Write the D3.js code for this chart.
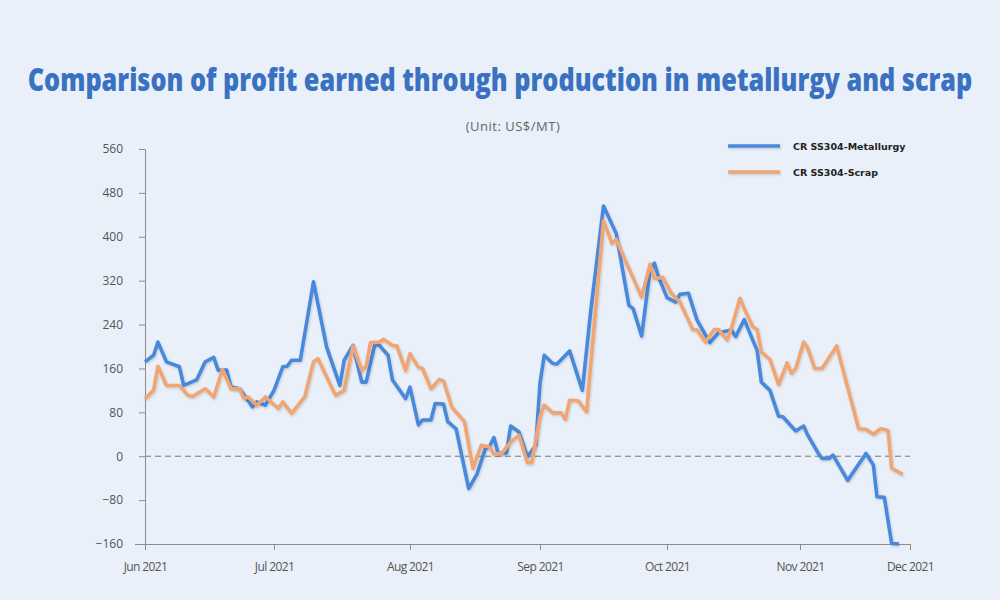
<!DOCTYPE html>
<html>
<head>
<meta charset="utf-8">
<script src="https://cdn.jsdelivr.net/npm/d3@7"></script>
<style>
  html, body { margin: 0; padding: 0; background: #e9f0f9; }
  svg { display: block; }
</style>
</head>
<body>
<svg id="chart" width="1000" height="600"></svg>
<script>
// ---------- data ----------
const titleText = "Comparison of profit earned through production in metallurgy and scrap";
const unitText = "(Unit: US$/MT)";
const seriesNames = ["CR SS304-Metallurgy", "CR SS304-Scrap"];
const yTicks = [-160, -80, 0, 80, 160, 240, 320, 400, 480, 560];
const monthTicks = ["2021-06-01", "2021-07-01", "2021-08-01", "2021-09-01", "2021-10-01", "2021-11-01", "2021-12-01"];

const metallurgyDates = [
  "2021-06-01","2021-06-03","2021-06-04","2021-06-06","2021-06-09","2021-06-10","2021-06-13","2021-06-15","2021-06-17","2021-06-18",
  "2021-06-20","2021-06-21","2021-06-23","2021-06-26","2021-06-27","2021-06-29","2021-07-01","2021-07-03","2021-07-04","2021-07-05",
  "2021-07-07","2021-07-10","2021-07-13","2021-07-16","2021-07-17","2021-07-19","2021-07-21","2021-07-22","2021-07-24","2021-07-25",
  "2021-07-27","2021-07-28","2021-07-31","2021-08-01","2021-08-03","2021-08-04","2021-08-06","2021-08-07","2021-08-09","2021-08-10",
  "2021-08-12","2021-08-15","2021-08-17","2021-08-19","2021-08-20","2021-08-21","2021-08-22","2021-08-24","2021-08-25","2021-08-27",
  "2021-08-29","2021-08-31","2021-09-01","2021-09-02","2021-09-04","2021-09-05","2021-09-08","2021-09-11","2021-09-13","2021-09-16",
  "2021-09-19","2021-09-22","2021-09-23","2021-09-25","2021-09-27","2021-09-28","2021-09-29","2021-10-01","2021-10-03","2021-10-04",
  "2021-10-06","2021-10-08","2021-10-11","2021-10-13","2021-10-16","2021-10-17","2021-10-19","2021-10-22","2021-10-23","2021-10-25",
  "2021-10-27","2021-10-28","2021-10-31","2021-11-02","2021-11-03","2021-11-06","2021-11-07","2021-11-09","2021-11-10","2021-11-14",
  "2021-11-19","2021-11-21","2021-11-22","2021-11-24","2021-11-26","2021-11-28"
];
const metallurgyValues = [
  172, 184, 208, 172, 163, 129, 139, 172, 180, 157,
  157, 126, 123, 90, 99, 93, 120, 163, 164, 175,
  175, 318, 199, 129, 175, 202, 135, 135, 204, 202,
  184, 139, 105, 126, 57, 66, 66, 96, 95, 63,
  50, -59, -32, 14, 18, 34, 6, 6, 55, 44,
  -1, 20, 133, 184, 169, 168, 192, 120, 266, 456,
  406, 275, 269, 219, 339, 352, 327, 289, 281, 295,
  297, 248, 207, 225, 230, 218, 249, 193, 135, 120,
  73, 72, 46, 55, 40, 5, -4, -4, 2, -44,
  5, -16, -74, -75, -159, -160
];

const scrapDates = [
  "2021-06-01","2021-06-03","2021-06-04","2021-06-06","2021-06-09","2021-06-11","2021-06-12","2021-06-15","2021-06-17","2021-06-19",
  "2021-06-21","2021-06-23","2021-06-24","2021-06-25","2021-06-27","2021-06-29","2021-07-02","2021-07-03","2021-07-05","2021-07-08",
  "2021-07-10","2021-07-11","2021-07-15","2021-07-17","2021-07-19","2021-07-21","2021-07-22","2021-07-23","2021-07-25","2021-07-26",
  "2021-07-28","2021-07-29","2021-07-31","2021-08-01","2021-08-03","2021-08-04","2021-08-06","2021-08-08","2021-08-09","2021-08-11",
  "2021-08-14","2021-08-16","2021-08-18","2021-08-20","2021-08-21","2021-08-23","2021-08-25","2021-08-27","2021-08-29","2021-08-30",
  "2021-09-01","2021-09-02","2021-09-04","2021-09-06","2021-09-07","2021-09-08","2021-09-10","2021-09-12","2021-09-16","2021-09-18",
  "2021-09-19","2021-09-22","2021-09-25","2021-09-27","2021-09-28","2021-09-30","2021-10-02","2021-10-04","2021-10-07","2021-10-08",
  "2021-10-10","2021-10-12","2021-10-13","2021-10-15","2021-10-16","2021-10-18","2021-10-19","2021-10-21","2021-10-22","2021-10-23",
  "2021-10-25","2021-10-27","2021-10-29","2021-10-30","2021-10-31","2021-11-02","2021-11-03","2021-11-05","2021-11-07","2021-11-11",
  "2021-11-17","2021-11-19","2021-11-21","2021-11-23","2021-11-25","2021-11-26","2021-11-29"
];
const scrapValues = [
  105, 120, 164, 129, 129, 111, 109, 123, 108, 158,
  123, 123, 105, 108, 93, 108, 87, 99, 78, 108,
  172, 178, 111, 120, 201, 157, 163, 207, 208, 213,
  202, 201, 156, 187, 162, 160, 123, 140, 137, 89,
  63, -22, 20, 17, 4, 6, 26, 38, -12, -12,
  72, 93, 79, 79, 67, 102, 101, 81, 429, 388,
  395, 342, 290, 350, 324, 326, 297, 281, 231, 230,
  208, 231, 231, 212, 233, 288, 269, 236, 231, 190,
  176, 131, 170, 151, 160, 208, 199, 160, 160, 201,
  50, 49, 40, 50, 47, -22, -33
];

// ---------- layout ----------
const colors = ["#4a89dc", "#f0a574"];
const parse = d3.timeParse("%Y-%m-%d");
const svg = d3.select("#chart");

const tickDates = monthTicks.map(parse);
const x = d3.scaleTime()
  .domain(tickDates)
  .range([145, 274, 410, 540, 667, 800, 910]);
const y = d3.scaleLinear().domain([-160, 560]).range([544, 149]);

// title (condensed by horizontal scaling)
const title = svg.append("text")
  .attr("x", 0).attr("y", 0)
  .attr("text-anchor", "middle")
  .attr("font-family", "'Open Sans', sans-serif")
  .attr("font-weight", 800)
  .attr("font-size", 31)
  .attr("fill", "#3a71c1")
  .text(titleText);
const natural = title.node().getComputedTextLength();
title.attr("transform", `translate(500,91) scale(${945 / natural},1)`);

svg.append("text")
  .attr("x", 513).attr("y", 131)
  .attr("text-anchor", "middle")
  .attr("font-family", "'Open Sans', sans-serif")
  .attr("font-size", 13)
  .attr("letter-spacing", "0.5px")
  .attr("fill", "#666")
  .text(unitText);

// zero line
svg.append("line")
  .attr("x1", 145).attr("x2", 910)
  .attr("y1", y(0)).attr("y2", y(0))
  .attr("stroke", "#777").attr("stroke-width", 1)
  .attr("stroke-dasharray", "6,4");

// y axis
const yAxis = svg.append("g")
  .attr("transform", "translate(145,0)")
  .call(d3.axisLeft(y).tickValues(yTicks).tickSize(6).tickPadding(16).tickFormat(d3.format("d")));
yAxis.select(".domain").attr("stroke", "#8c8c8c");
yAxis.selectAll(".tick line").attr("stroke", "#8c8c8c");
yAxis.selectAll(".tick text")
  .attr("font-family", "'Open Sans', sans-serif")
  .attr("font-size", 12).attr("fill", "#555");

// x axis
const xAxis = svg.append("g")
  .attr("transform", "translate(0,544)")
  .call(d3.axisBottom(x).tickValues(tickDates).tickSize(6).tickSizeOuter(0).tickPadding(12)
    .tickFormat(d3.timeFormat("%b %Y")));
xAxis.select(".domain").attr("stroke", "#8c8c8c").attr("d", "M135,0.5H910.5");
xAxis.selectAll(".tick line").attr("stroke", "#8c8c8c");
xAxis.selectAll(".tick text")
  .attr("font-family", "'Open Sans', sans-serif")
  .attr("font-size", 12).attr("fill", "#555")
  .attr("letter-spacing", "-0.6px");

// shadow filter (user space so flat lines keep it)
const defs = svg.append("defs");
const f = defs.append("filter").attr("id", "sh")
  .attr("filterUnits", "userSpaceOnUse")
  .attr("x", 0).attr("y", 0).attr("width", 1000).attr("height", 600);
f.append("feDropShadow").attr("dx", 0.8).attr("dy", 1.2).attr("stdDeviation", 1).attr("flood-color", "#000").attr("flood-opacity", 0.18);

const line = d3.line().x(d => x(d[0])).y(d => y(d[1]));
const seriesData = [
  metallurgyDates.map((d, i) => [parse(d), metallurgyValues[i]]),
  scrapDates.map((d, i) => [parse(d), scrapValues[i]])
];

[0, 1].forEach(i => {
  svg.append("path")
    .datum(seriesData[i])
    .attr("d", line)
    .attr("fill", "none")
    .attr("stroke", colors[i])
    .attr("stroke-width", 3.6)
    .attr("stroke-linejoin", "round")
    .attr("filter", "url(#sh)");
});

// legend
const legend = svg.append("g");
seriesNames.forEach((name, i) => {
  const ly = 146 + i * 26;
  legend.append("line")
    .attr("x1", 728).attr("x2", 780)
    .attr("y1", ly).attr("y2", ly)
    .attr("stroke", colors[i]).attr("stroke-width", 3.6)
    .attr("filter", "url(#sh)");
  legend.append("text")
    .attr("x", 793).attr("y", ly + 3.5)
    .attr("font-family", "'DejaVu Sans', sans-serif")
    .attr("font-weight", "bold")
    .attr("font-size", 9.5)
    .attr("fill", "#222")
    .text(name);
});
</script>
</body>
</html>
